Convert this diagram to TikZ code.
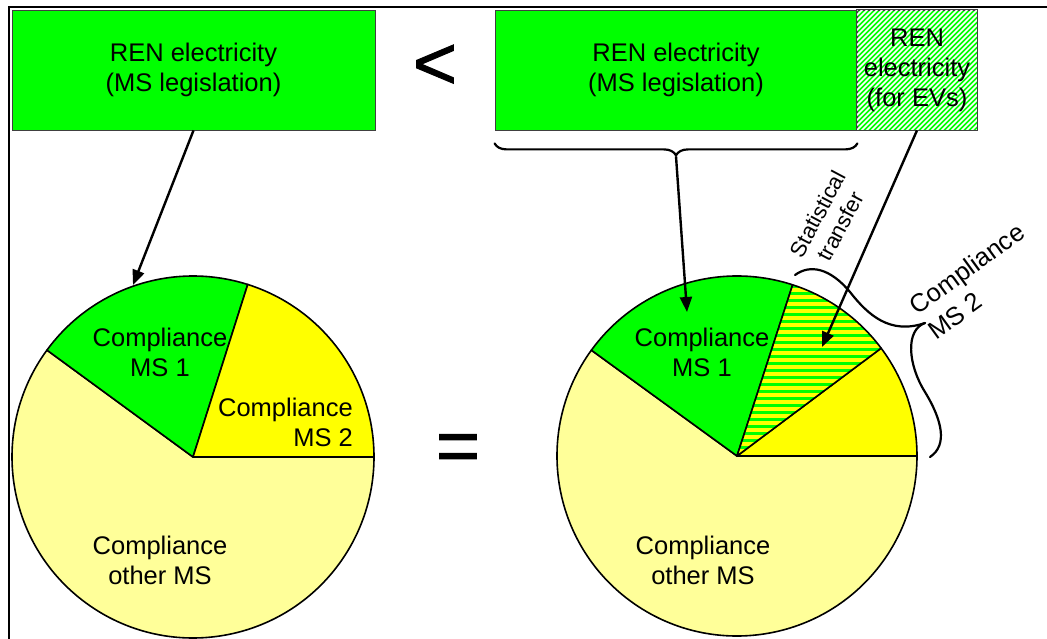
\documentclass[tikz,border=0pt]{standalone}
\usepackage{fontspec}
\setmainfont{Liberation Sans}
\newfontfamily\symfnt[FakeBold=1.2]{Liberation Sans}
\usetikzlibrary{arrows.meta,decorations.pathreplacing}
\definecolor{pgreen}{RGB}{0,255,0}
\definecolor{pyellow}{RGB}{255,255,0}
\definecolor{lyellow}{RGB}{255,255,153}
\begin{document}
\begin{tikzpicture}[x=1pt,y=-1pt,
  txt/.style={font=\fontsize{25.5}{30}\selectfont, align=center, inner sep=0pt},
  smalltxt/.style={font=\fontsize{22}{26}\selectfont, align=center, inner sep=0pt},
  bigsym/.style={font=\symfnt\fontsize{76}{80}\selectfont, inner sep=0pt},
  gbox/.style={draw=black!75, line width=0.8pt, fill=pgreen, inner sep=0pt, minimum height=120pt},
  conn/.style={line width=2.4pt, -{Triangle[length=15pt,width=12pt]}},
  wedge/.style={draw=black, line width=1.6pt, line join=round},
  bracel/.style={line width=2.2pt, line cap=round}]
\useasboundingbox (0,0) rectangle (1047,639);
% frame
\draw[line width=2pt] (9,639) -- (9,7) -- (1047,7);

% boxes
\node[gbox, minimum width=363pt] (lbox) at (193.5,70) {};
\node[txt] (ltext) at (lbox.center) {REN electricity\\(MS legislation)};
\node[gbox, minimum width=362pt] (rbox) at (676,70) {};
\node[txt] (rtext) at (rbox.center) {REN electricity\\(MS legislation)};
\node[gbox, minimum width=120pt] (hbox) at (917,70) {};
\begin{scope}
  \clip (hbox.south west) rectangle (hbox.north east);
  \foreach \k in {0,...,55}
    \draw[white, line width=1.6pt] ([xshift=\k*5pt-130pt]hbox.south west) -- ++(130,-130);
\end{scope}
\draw[black!75, line width=0.8pt] (hbox.south west) rectangle (hbox.north east);
\node[txt] (htext) at (hbox.center) {REN\\electricity\\(for EVs)};

% symbols
\node[bigsym] (lt) at (435,67) {<};
\node[bigsym] (eq) at (458,453) {=};

% left pie
\begin{scope}[shift={(193,457)}, y=1pt]
  \filldraw[wedge, fill=lyellow] (0,0) -- (143.8:181) arc[start angle=143.8, end angle=360, radius=181] -- cycle;
  \filldraw[wedge, fill=pgreen] (0,0) -- (72.4:181) arc[start angle=72.4, end angle=143.8, radius=181] -- cycle;
  \filldraw[wedge, fill=pyellow] (0,0) -- (0:181) arc[start angle=0, end angle=72.4, radius=181] -- cycle;
\end{scope}
\node[txt] (l1) at (160,352) {Compliance\\MS 1};
\node[txt, align=right, anchor=east] (l2) at (353,422) {Compliance\\MS 2};
\node[txt] (l3) at (160,560) {Compliance\\other MS};

% right pie
\begin{scope}[shift={(737,456)}, y=1pt]
  \filldraw[wedge, fill=lyellow] (0,0) -- (144:180) arc[start angle=144, end angle=360, radius=180] -- cycle;
  \filldraw[wedge, fill=pgreen] (0,0) -- (72:180) arc[start angle=72, end angle=144, radius=180] -- cycle;
  \filldraw[wedge, fill=pyellow] (0,0) -- (0:180) arc[start angle=0, end angle=36.8, radius=180] -- cycle;
  \begin{scope}
    \clip (0,0) -- (36.8:180) arc[start angle=36.8, end angle=72, radius=180] -- cycle;
    \fill[pyellow] (-10,-10) rectangle (200,200);
    \foreach \k in {0,...,30}
      \fill[pgreen] (0,\k*7) rectangle (200,\k*7+3.5);
  \end{scope}
  \draw[wedge] (0,0) -- (36.8:180) arc[start angle=36.8, end angle=72, radius=180] -- cycle;
\end{scope}
\node[txt] (r1) at (702,352) {Compliance\\MS 1};
\node[txt] (r3) at (703,560) {Compliance\\other MS};

% rotated labels
\node[smalltxt, rotate=62] (st) at (829,220) {Statistical\\transfer};
\node[font=\fontsize{25.5}{31}\selectfont, inner sep=0pt, align=left, rotate=36] (cms2) at (976,281) {Compliance\\MS 2};

% braces
\draw[bracel, decorate, decoration={brace, mirror, amplitude=12pt}]
  ([yshift=-13pt]rbox.south west) -- ([yshift=-13pt]rbox.south east);
\coordinate (btip) at ([yshift=-26pt]rbox.south);
\draw[bracel] (795,275) .. controls (810,264) and (830,268) .. (850,292)
  .. controls (868,315) and (890,335) .. (925,323);
\draw[bracel] (925,323) .. controls (905,330) and (908,365) .. (925,392)
  .. controls (942,420) and (948,445) .. (930,457);

% arrow targets
\coordinate (la) at (133,285);
\coordinate (ra) at (687,312);
\coordinate (ha) at (822,347);

% connectors
\draw[conn] (lbox.south) -- (la);
\draw[conn] (btip) -- (ra);
\draw[conn] (hbox.south) -- (ha);
\end{tikzpicture}
\end{document}
